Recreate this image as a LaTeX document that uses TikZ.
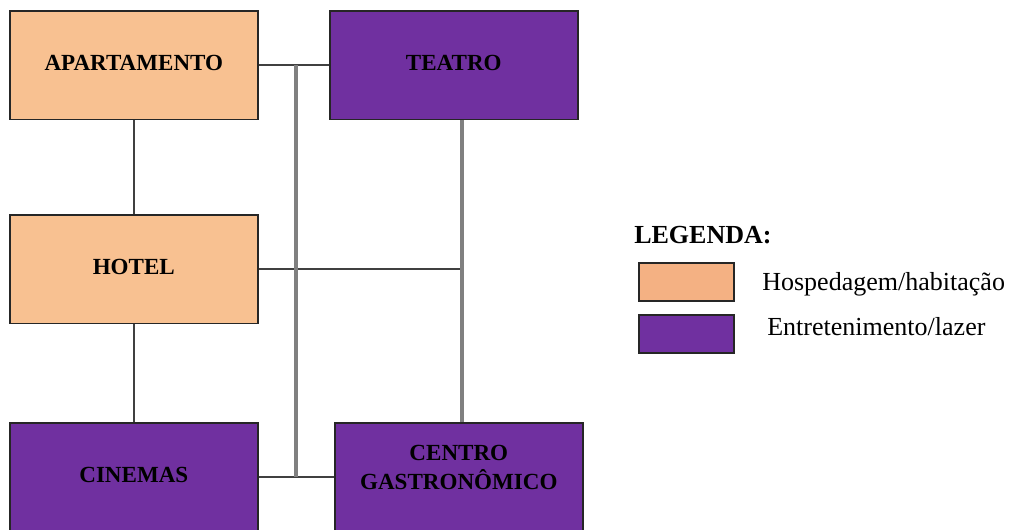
\documentclass[tikz,border=0pt]{standalone}
\usepackage{fontspec}
\setmainfont{Liberation Serif}
\definecolor{peach}{HTML}{F8C191}
\definecolor{peachleg}{HTML}{F4B183}
\definecolor{roxo}{HTML}{7030A0}
\begin{document}
\begin{tikzpicture}[x=0.025cm, y=-0.025cm,
    box/.style={draw=black!85, line width=1.1pt, minimum width=6.2cm,
                minimum height=2.72cm, anchor=north west, inner sep=2pt,
                align=center, text depth=0.1cm,
                font=\fontsize{16.4}{21}\selectfont\bfseries},
    hosp/.style={box, fill=peach},
    lazer/.style={box, fill=roxo},
    link/.style={draw=black!75, line width=1.3pt},
    tronco/.style={draw=black!50, line width=2.2pt},
    legbox/.style={draw=black!85, line width=1.1pt, minimum width=2.38cm,
                   minimum height=0.95cm, anchor=north west},
    legtext/.style={anchor=base west, inner sep=0pt,
                    font=\fontsize{18.5}{22}\selectfont}]
  \useasboundingbox (0,0) rectangle (1014,529);
  \node[hosp]  (apto)    at (9,10)    {APARTAMENTO};
  \node[lazer] (teatro)  at (329,10)  {TEATRO};
  \node[hosp]  (hotel)   at (9,214)   {HOTEL};
  \node[lazer] (cinemas) at (9,422)   {CINEMAS};
  \node[lazer, text depth=0.5cm] (centro) at (334,422) {CENTRO\\GASTRONÔMICO};
  \coordinate (tx) at (296,0);
  \coordinate (ty) at (462,0);
  \draw[link] (apto.south) -- (hotel.north);
  \draw[link] (hotel.south) -- (cinemas.north);
  \draw[link] (apto.east) -- (teatro.west);
  \draw[link] (cinemas.east) -- (centro.west);
  \draw[link] (hotel.east) -- (hotel.east -| ty);
  \draw[tronco] (apto.east -| tx) -- (cinemas.east -| tx);
  \draw[tronco] (teatro.south -| ty) -- (centro.north -| ty);
  % legenda
  \node[anchor=base west, inner sep=0pt,
        font=\fontsize{18.5}{22}\selectfont\bfseries] (legtitulo) at (634,243) {LEGENDA:};
  \node[legbox, fill=peachleg] (leghosp)  at (638,262) {};
  \node[legbox, fill=roxo]     (leglazer) at (638,314) {};
  \node[legtext] (txthosp)  at (762,290) {Hospedagem/habitação};
  \node[legtext] (txtlazer) at (767,335) {Entretenimento/lazer};
\end{tikzpicture}
\end{document}
